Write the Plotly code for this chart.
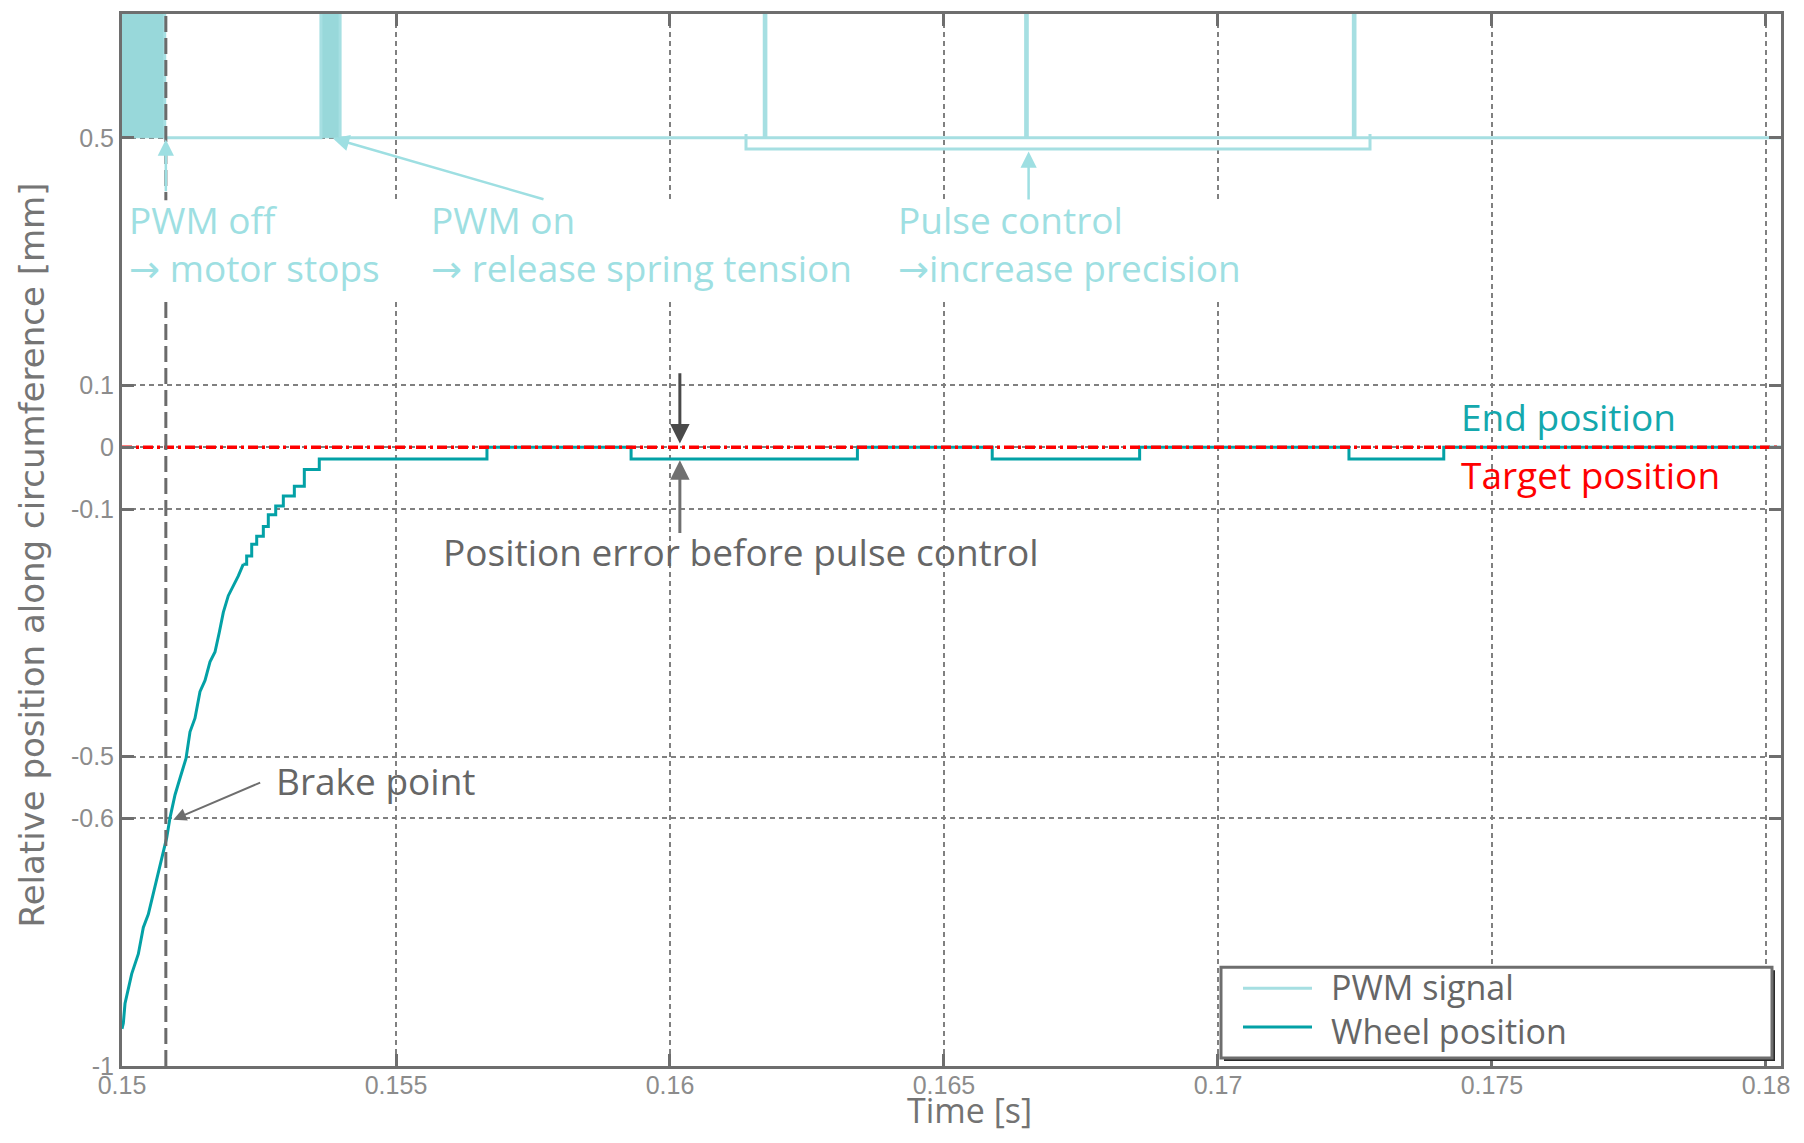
import plotly.graph_objects as go

# ---------------- data ----------------
x_ticks = [0.15, 0.155, 0.16, 0.165, 0.17, 0.175, 0.18]
x_tick_labels = ["0.15", "0.155", "0.16", "0.165", "0.17", "0.175", "0.18"]
y_ticks = [-1, -0.6, -0.5, -0.1, 0, 0.1, 0.5]
y_tick_labels = ["-1", "-0.6", "-0.5", "-0.1", "0", "0.1", "0.5"]

# Wheel position [mm] vs time [s]
wheel_t = [0.15, 0.150024, 0.150055, 0.150177, 0.150298, 0.150389, 0.150480, 0.150572,
           0.150724, 0.150816, 0.150876, 0.150967, 0.151058, 0.151168, 0.151241,
           0.151332, 0.151423, 0.151515, 0.151606, 0.151697, 0.151776, 0.151849,
           0.151940, 0.152032, 0.152123, 0.152214, 0.152275, 0.152367, 0.152458,
           0.152579, 0.152670, 0.152805, 0.152944, 0.153145, 0.153327, 0.153600,
           0.156660, 0.159290, 0.163420, 0.165880, 0.168570, 0.172390, 0.174120, 0.180274]
wheel_v = [-0.94, -0.931, -0.899, -0.851, -0.819, -0.776, -0.755, -0.722,
           -0.669, -0.631, -0.599, -0.562, -0.535, -0.503, -0.460,
           -0.438, -0.395, -0.377, -0.347, -0.331, -0.299, -0.267,
           -0.240, -0.224, -0.208, -0.189, -0.176, -0.157, -0.144,
           -0.128, -0.109, -0.095, -0.079, -0.063, -0.036, -0.019,
           0.0, -0.019, 0.0, -0.019, 0.0, -0.019, 0.0, 0.0]

# PWM signal (offset so that "off" sits at 0.5)
pwm_t = [0.15, 0.15078, 0.15363, 0.15398, 0.16172, 0.16175, 0.16649, 0.16652,
         0.17247, 0.17250, 0.180274]
pwm_v = [1.0, 0.5, 1.0, 0.5, 1.0, 0.5, 1.0, 0.5, 1.0, 0.5, 0.5]
# dense PWM switching bursts (drawn filled)
burst_start = [0.15, 0.15363]
burst_end = [0.15078, 0.15398]
pwm_low, pwm_high = 0.5, 1.0

target_t = [0.15, 0.180274]
target_v = [0.0, 0.0]

brake_t = 0.1508

legend_names = ["PWM signal", "Wheel position"]

# ---------------- styles ----------------
PWM_C = "#a6dfe2"
PWM_FILL = "#98d8da"
WHEEL_C = "#03a1a6"
RED = "#ff0000"
AX_C = "#6e6e6e"
GRID_C = "#808080"
TXT_GRAY = "#666666"
TXT_CYAN = "#9edfe2"
TXT_TEAL = "#14a8ad"
ANN_FONT = "Open Sans"
ARROW = '<span style="font-family:DejaVu Sans">→</span>'

W, H = 1804, 1143
L, R, T, B = 122, 1781, 11, 1066   # plot area in page pixels
OFF = 8                             # default body margin of the page


def px(xp):
    return (xp - L) / (R - L)


def py(yp):
    return (B - yp) / (B - T)


fig = go.Figure()

# bursts filled
bx, by = [], []
for s, e in zip(burst_start, burst_end):
    bx += [s, e, e, s, s, None]
    by += [pwm_low, pwm_low, pwm_high, pwm_high, pwm_low, None]
fig.add_trace(go.Scatter(x=bx, y=by, mode="lines", fill="toself", fillcolor=PWM_FILL,
                         line=dict(color=PWM_FILL, width=1), hoverinfo="skip",
                         showlegend=False))
fig.add_trace(go.Scatter(x=pwm_t, y=pwm_v, mode="lines", line_shape="hv",
                         line=dict(color=PWM_C, width=3), name=legend_names[0],
                         showlegend=False))
# steep part of the ramp (fine quantisation -> nearly straight), then visible steps
split = next(i for i, v in enumerate(wheel_v) if v > -0.2)
fig.add_trace(go.Scatter(x=wheel_t[:split + 1], y=wheel_v[:split + 1], mode="lines",
                         line=dict(color=WHEEL_C, width=3), name=legend_names[1],
                         showlegend=False))
fig.add_trace(go.Scatter(x=wheel_t[split:], y=wheel_v[split:], mode="lines", line_shape="hv",
                         line=dict(color=WHEEL_C, width=3), name=legend_names[1],
                         showlegend=False))
fig.add_trace(go.Scatter(x=target_t, y=target_v, mode="lines",
                         line=dict(color=RED, width=3.5, dash="10px,4px,3px,4px"),
                         name="Target position", showlegend=False))

shapes = []
shapes.append(dict(type="line", xref="x", yref="paper", x0=brake_t, x1=brake_t, y0=0, y1=1,
                   line=dict(color="#6b6b6b", width=3, dash="16px,6px"), layer="above"))
shapes.append(dict(type="rect", xref="x", yref="y", x0=0.15006, x1=0.1727, y0=0.237, y1=0.399,
                   fillcolor="white", line=dict(width=0), layer="above"))
shapes.append(dict(type="path", xref="x", yref="y",
                   path="M 0.161387 0.506 L 0.161387 0.482 L 0.172774 0.482 L 0.172774 0.506",
                   line=dict(color=PWM_C, width=3), layer="above"))

# legend box (manual)
lx0, lx1, ly0, ly1 = 1221, 1772, 967, 1058
shapes.append(dict(type="rect", xref="paper", yref="paper", x0=px(lx0 + 3), x1=px(lx1 + 3),
                   y0=py(ly1 + 3), y1=py(ly0 + 3), fillcolor="#2a2a2a",
                   line=dict(width=0), layer="above"))
shapes.append(dict(type="rect", xref="paper", yref="paper", x0=px(lx0), x1=px(lx1),
                   y0=py(ly1), y1=py(ly0), fillcolor="white",
                   line=dict(color=AX_C, width=3), layer="above"))
shapes.append(dict(type="line", xref="paper", yref="paper", x0=px(1243), x1=px(1312),
                   y0=py(988), y1=py(988), line=dict(color=PWM_C, width=3), layer="above"))
shapes.append(dict(type="line", xref="paper", yref="paper", x0=px(1243), x1=px(1312),
                   y0=py(1027), y1=py(1027), line=dict(color=WHEEL_C, width=3), layer="above"))

ann = []


def text(x, y, s, color, size=37, font=ANN_FONT):
    ann.append(dict(xref="paper", yref="paper", x=px(x), y=py(y), text=s, showarrow=False,
                    xanchor="left", yanchor="middle", align="left",
                    font=dict(family=font, size=size, color=color)))


def arrow(x, y, ax, ay, color, width=2.5, size=1.3):
    ann.append(dict(xref="x", yref="y", axref="x", ayref="y", x=x, y=y, ax=ax, ay=ay,
                    text="", showarrow=True, arrowhead=2, arrowsize=size,
                    arrowwidth=width, arrowcolor=color, standoff=0, startstandoff=0))


text(127, 241, "PWM off<br>" + ARROW + " motor stops", TXT_CYAN)
text(429, 241, "PWM on<br>" + ARROW + " release spring tension", TXT_CYAN)
text(896, 241, "Pulse control<br>" + ARROW + "increase precision", TXT_CYAN)
text(1459, 415, "End position", TXT_TEAL)
text(1459, 473, "Target position", RED)
text(441, 550, "Position error before pulse control", TXT_GRAY)
text(274, 780, "Brake point", TXT_GRAY)
text(1329, 1009, "<br>".join(legend_names), TXT_GRAY, size=34)

arrow(0.15080, 0.497, 0.15080, 0.411, TXT_CYAN)
arrow(0.15385, 0.499, 0.157719, 0.400, TXT_CYAN)
arrow(0.166544, 0.478, 0.166544, 0.398, TXT_CYAN)
arrow(0.16018, 0.006, 0.16018, 0.122, "#4a4a4a", width=3)
arrow(0.16018, -0.021, 0.16018, -0.141, "#707070", width=3)
arrow(0.150936, -0.602, 0.152549, -0.541, "#6e6e6e", width=2)

# axis titles
ann.append(dict(xref="paper", yref="paper", x=px(969), y=py(1110), text="Time [s]",
                showarrow=False, xanchor="center", yanchor="middle",
                font=dict(family=ANN_FONT, size=34, color="#737373")))
ann.append(dict(xref="paper", yref="paper", x=px(32), y=py(554),
                text="Relative position along circumference [mm]", textangle=-90,
                showarrow=False, xanchor="center", yanchor="middle",
                font=dict(family="DejaVu Sans", size=34, color="#757575")))

axis_common = dict(showline=True, linecolor=AX_C, linewidth=3, mirror="ticks",
                   ticks="inside", ticklen=12, tickwidth=3, tickcolor=AX_C,
                   showgrid=True, gridcolor=GRID_C, gridwidth=1.5, griddash="5px,4px",
                   zeroline=False,
                   tickfont=dict(family="Liberation Sans", size=25, color="#8c8c8c"))

fig.update_layout(
    width=W - 2 * OFF, height=H - 2 * OFF,
    margin=dict(l=L - OFF, r=W - OFF - R, t=T - OFF, b=H - OFF - B, pad=0),
    paper_bgcolor="white", plot_bgcolor="white",
    showlegend=False,
    xaxis=dict(range=[0.15, 0.180274], tickvals=x_ticks, ticktext=x_tick_labels,
               ticklabelstandoff=-5, **axis_common),
    yaxis=dict(range=[-1, 0.7], tickvals=y_ticks, ticktext=y_tick_labels, **axis_common),
    shapes=shapes,
    annotations=ann,
)

fig.write_html("out.html")
